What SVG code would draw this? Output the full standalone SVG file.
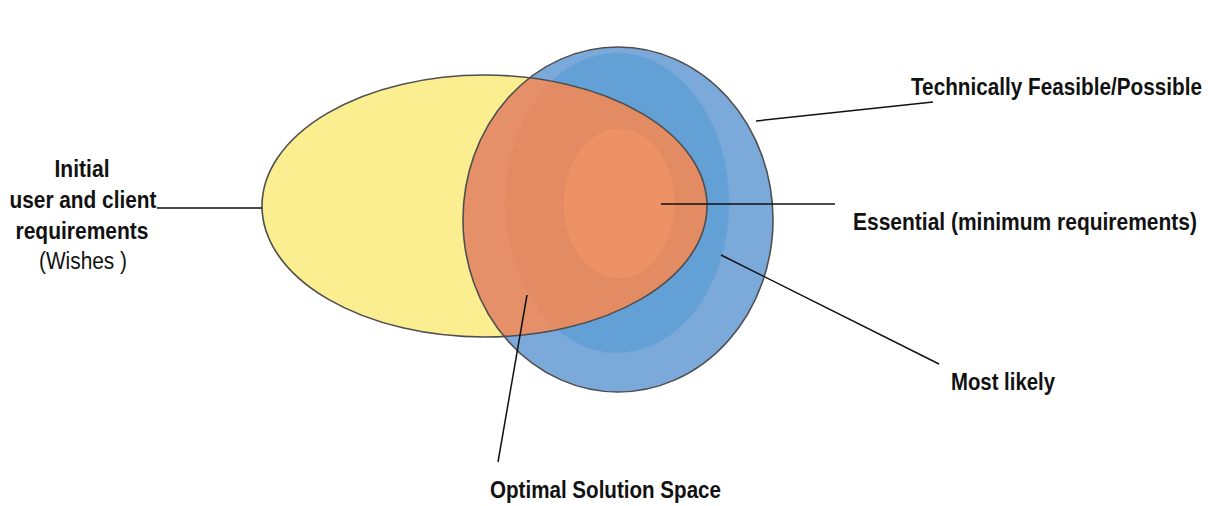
<svg xmlns="http://www.w3.org/2000/svg" width="1215" height="506" viewBox="0 0 1215 506">
<style>
.lbl{font-family:"Liberation Sans",Arial,sans-serif;font-weight:bold;font-size:21px;fill:#111}
.lblr{font-family:"Liberation Sans",Arial,sans-serif;font-size:21px;fill:#111}
.edge{stroke:#4f4f4f;stroke-width:1.6;fill:none}
.conn{stroke:#111;stroke-width:1.5;fill:none}
</style>
<defs>
<clipPath id="clipBlue"><ellipse cx="618" cy="219.5" rx="155" ry="172.5"/></clipPath>
<clipPath id="clipYellow"><ellipse cx="484.5" cy="206" rx="222.5" ry="131"/></clipPath>
</defs>
<rect width="1215" height="506" fill="#ffffff"/>
<g id="feasible">
<ellipse cx="618" cy="219.5" rx="155" ry="172.5" fill="#7BA9DA"/>
</g>
<g id="mostlikely">
<ellipse cx="617" cy="203" rx="112" ry="150" fill="#62A0D5" stroke="#6DA5D6" stroke-width="1"/>
</g>
<g id="wishes">
<ellipse cx="484.5" cy="206" rx="222.5" ry="131" fill="#FBEE90"/>
</g>
<g id="optimal">
<ellipse cx="484.5" cy="206" rx="222.5" ry="131" fill="#E6906A" clip-path="url(#clipBlue)"/>
<ellipse cx="617" cy="203" rx="112" ry="150" fill="#E38B63" clip-path="url(#clipYellow)"/>
</g>
<g id="essential">
<ellipse cx="619" cy="203.5" rx="56" ry="75.5" fill="#EC9264" stroke="#E6895F" stroke-width="1"/>
</g>
<g id="outlines">
<ellipse class="edge" cx="618" cy="219.5" rx="155" ry="172.5"/>
<ellipse class="edge" cx="484.5" cy="206" rx="222.5" ry="131"/>
</g>
<g id="connectors">
<line class="conn" x1="157" y1="208" x2="262" y2="208"/>
<line class="conn" x1="756" y1="121" x2="933" y2="102"/>
<line class="conn" x1="661" y1="204" x2="835" y2="204"/>
<line class="conn" x1="721" y1="255" x2="939" y2="364"/>
<line class="conn" x1="527" y1="295" x2="498" y2="462"/>
</g>
<g id="label-wishes">
<text class="lbl" transform="translate(82,177) scale(1,1.12)" text-anchor="middle" textLength="55" lengthAdjust="spacingAndGlyphs">Initial</text>
<text class="lbl" transform="translate(83,208) scale(1,1.12)" text-anchor="middle" textLength="147" lengthAdjust="spacingAndGlyphs">user and client</text>
<text class="lbl" transform="translate(82,239) scale(1,1.12)" text-anchor="middle" textLength="133" lengthAdjust="spacingAndGlyphs">requirements</text>
<text class="lblr" transform="translate(83,269) scale(1,1.12)" text-anchor="middle" textLength="88" lengthAdjust="spacingAndGlyphs">(Wishes )</text>
</g>
<g id="label-feasible">
<text class="lbl" transform="translate(911,95) scale(1,1.12)" textLength="291" lengthAdjust="spacingAndGlyphs">Technically Feasible/Possible</text>
</g>
<g id="label-essential">
<text class="lbl" transform="translate(853,230) scale(1,1.12)" textLength="344" lengthAdjust="spacingAndGlyphs">Essential (minimum requirements)</text>
</g>
<g id="label-mostlikely">
<text class="lbl" transform="translate(951,390) scale(1,1.12)" textLength="104" lengthAdjust="spacingAndGlyphs">Most likely</text>
</g>
<g id="label-optimal">
<text class="lbl" transform="translate(490,498) scale(1,1.12)" textLength="231" lengthAdjust="spacingAndGlyphs">Optimal Solution Space</text>
</g>
</svg>
